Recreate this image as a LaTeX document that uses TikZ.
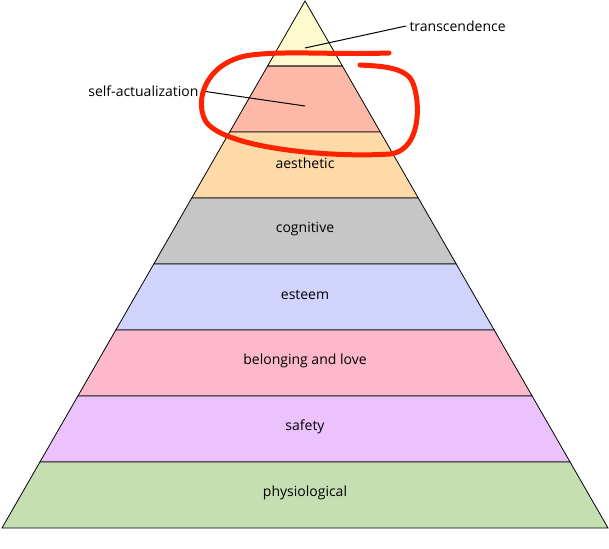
\documentclass[tikz,border=0pt]{standalone}
\usepackage{fontspec}
\setmainfont{Open Sans}
\usetikzlibrary{calc}
\definecolor{transc}{HTML}{FDFBCD}
\definecolor{selfact}{HTML}{FCB9A8}
\definecolor{aesth}{HTML}{FDDAA8}
\definecolor{cogn}{HTML}{C6C6C6}
\definecolor{estm}{HTML}{D0D3FC}
\definecolor{belong}{HTML}{FDB9CB}
\definecolor{safe}{HTML}{EBC2FC}
\definecolor{physio}{HTML}{C6DFB2}
\definecolor{marker}{HTML}{FF2200}

\begin{document}
\begin{tikzpicture}[x=1pt,y=-1pt,
    layer/.style={draw=black, line width=0.8pt},
    lbl/.style={font=\fontsize{14}{16}\selectfont},
    leader/.style={draw=black, line width=1pt}]
    \useasboundingbox (0,0) rectangle (609,548);

    % pyramid layers, apex at (305,1)
    \fill[transc] (305,1) -- (342.4,66) -- (267.6,66) -- cycle;
    \foreach \ya/\yb/\col/\name/\txt in {
        66/132/selfact/sa/{},
        132/198/aesth/ae/aesthetic,
        198/264/cogn/co/cognitive,
        264/330/estm/es/esteem,
        330/396/belong/be/belonging and love,
        396/462/safe/sf/safety,
        462/528/physio/ph/physiological}{
      \pgfmathsetmacro{\wtop}{(\ya-1)*0.575}
      \pgfmathsetmacro{\wbot}{(\yb-1)*0.575}
      \filldraw[layer, fill=\col] ({305-\wtop},\ya) -- ({305+\wtop},\ya)
        -- ({305+\wbot},\yb) -- ({305-\wbot},\yb) -- cycle;
      \node[lbl] (\name) at (305,{(\ya+\yb)/2-2}) {\txt};
    }
    \draw[layer] (305,1) -- (342.4,66) -- (267.6,66) -- cycle;

    % side labels
    \coordinate (tr-end) at (305,48);
    \coordinate (sa-end) at (305,106);
    \node[lbl, anchor=west] (tr) at (406,26) {transcendence};
    \node[lbl, anchor=east] (salbl) at (202,91) {self-actualization};
    \draw[leader] (tr.west) -- (tr-end);
    \draw[leader] (salbl.east) -- (sa-end);

    % red marker loop
    \draw[marker, line width=5pt, line cap=round, line join=round]
      (389,53) .. controls (330,55) and (280,50) .. (245,56)
      .. controls (205,65) and (195,100) .. (205,120)
      .. controls (220,148) and (330,158) .. (390,154)
      .. controls (425,150) and (420,90) .. (410,78)
      .. controls (400,66) and (375,66) .. (360,65);
\end{tikzpicture}
\end{document}
